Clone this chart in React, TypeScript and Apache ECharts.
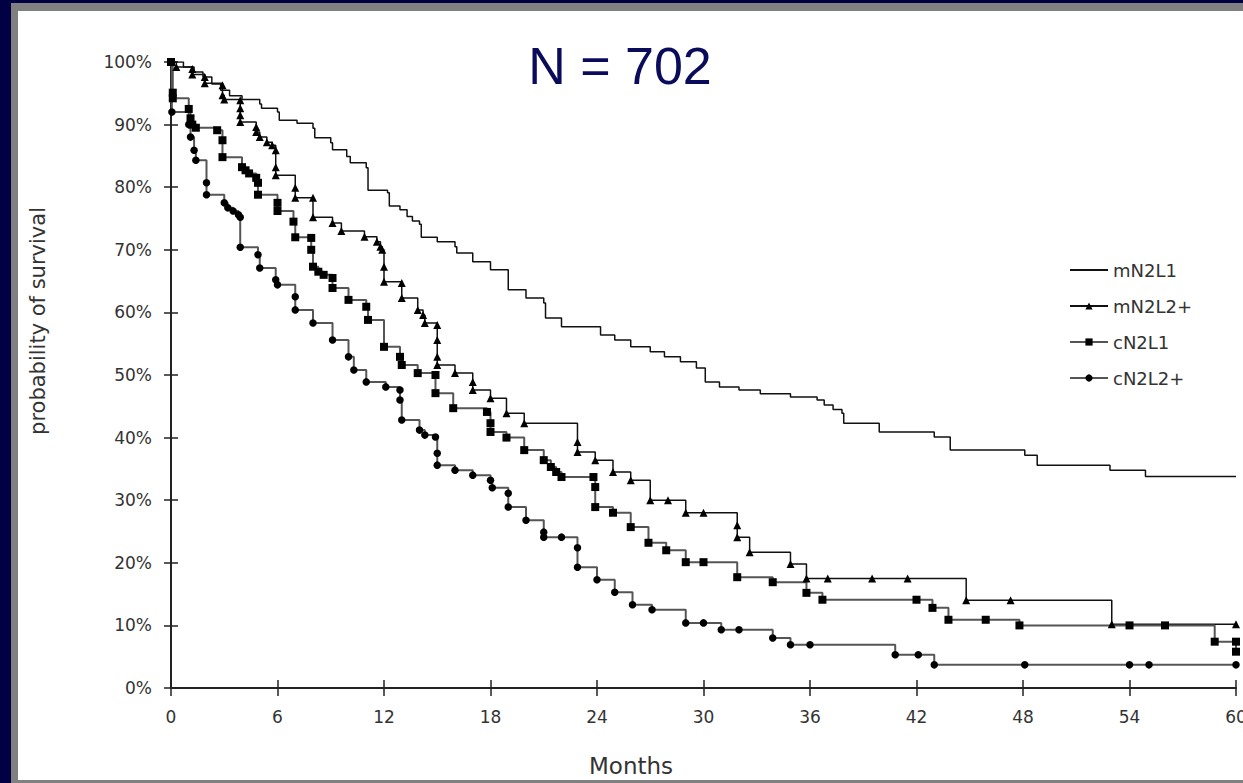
import React, { useEffect, useRef } from 'react';
import * as echarts from 'echarts';

const seriesNames = ['mN2L1', 'mN2L2+', 'cN2L1', 'cN2L2+'];
const xTicks = { min: 0, max: 60, interval: 6 };
const yTicks = { min: 0, max: 100, interval: 10 };

const mN2L1: number[][] = [
  [0, 100], [0.7, 99.2], [1.3, 98.4], [1.8, 97.6], [2.3, 96.5], [2.8, 95.5], [3.3, 94.6], [4, 94.0],
  [5, 93.3], [5.1, 92.6], [6, 92], [6.1, 90.7], [7.1, 90.2], [8, 89.4], [8.1, 87.9], [9, 87.1],
  [9.1, 86], [9.9, 84.9], [10.1, 83.9], [11, 83.1], [11.1, 79.5], [12.2, 79.1], [12.3, 77],
  [12.9, 76.4], [13.3, 75.3], [13.6, 74.6], [14, 74.1], [14.1, 72], [15, 71.3], [16, 70.5],
  [16.1, 69.5], [17, 68.1], [18, 66.8], [19, 63.6], [20, 62.3], [21, 61.5], [21.1, 59.1],
  [22, 57.7], [24.2, 56.4], [25, 55.6], [25.9, 54.5], [27, 53.7], [27.8, 52.9], [28.7, 52.1],
  [29.6, 51.1], [30.1, 48.9], [30.9, 48.1], [32, 47.6], [33.2, 47], [34.9, 46.5], [36.4, 46.0],
  [36.8, 45.2], [37.3, 44.5], [37.8, 43.9], [37.9, 42.3], [39.9, 40.9], [43.0, 40.1], [43.9, 38.0],
  [48.1, 37.2], [48.8, 35.6], [52.9, 34.8], [54.9, 33.8], [60, 33.8],
];

const mN2L2p: number[][] = [
  [0, 100], [0.3, 99.2], [1.2, 98.9], [1.2, 98], [1.9, 97.6], [1.9, 96.6], [2.9, 96.3], [2.9, 94.7],
  [3, 94], [3.9, 93.9], [3.9, 92.6], [3.9, 91.5], [3.9, 90.4], [4.8, 89.6], [4.8, 88.8], [5.0, 88],
  [5.4, 87.2], [5.7, 86.7], [5.9, 85.9], [5.9, 83.2], [5.9, 81.9], [7.0, 79.9], [7.0, 78.3],
  [8.0, 78.3], [8.0, 75.2], [9.1, 74.3], [9.6, 73.0], [10.9, 72.1], [11.6, 71.3], [11.8, 70.5],
  [11.9, 70], [12.0, 67.3], [12.0, 64.9], [13.0, 64.7], [13.0, 62.3], [13.9, 60.4], [14.2, 59.6],
  [14.3, 58.3], [15.0, 58.0], [15.0, 55.6], [15.0, 52.9], [15.0, 51.6], [16.0, 50.3], [17.0, 48.9],
  [17.0, 47.6], [18.0, 46.3], [18.9, 43.9], [19.9, 42.3], [22.9, 39.3], [22.9, 37.7], [23.9, 36.4],
  [24.9, 34.5], [25.9, 33.2], [27.0, 30.0], [28.0, 30.0], [29.0, 28.0], [30.0, 28.0], [31.9, 26.0],
  [31.9, 24.1], [32.6, 21.7], [34.9, 19.8], [35.8, 17.5], [37.0, 17.5], [39.5, 17.5], [41.5, 17.5],
  [44.8, 14.0], [47.3, 14.0], [53.0, 10.2], [60, 10.2],
];

const cN2L1: number[][] = [
  [0, 100], [0.1, 95.1], [0.1, 94.2], [1.0, 92.5], [1.1, 91], [1.2, 90], [1.4, 89.5], [2.6, 89.1],
  [2.9, 87.5], [2.9, 84.8], [4.0, 83.2], [4.2, 82.7], [4.4, 82.2], [4.8, 81.5], [4.9, 80.7],
  [4.9, 78.8], [6.0, 77.5], [6.0, 76.2], [6.9, 74.5], [7.0, 72.0], [7.9, 71.9], [7.9, 70],
  [8.0, 67.3], [8.3, 66.5], [8.6, 66.0], [9.1, 65.5], [9.1, 63.9], [10.0, 62.0], [11.0, 60.9],
  [11.1, 58.8], [12.0, 54.5], [12.9, 52.9], [13.0, 51.6], [13.9, 50.3], [14.9, 50.0], [14.9, 47.1],
  [15.9, 44.7], [17.8, 44.1], [18.0, 42.3], [18.0, 40.9], [18.9, 40.0], [19.9, 38.0], [21.0, 36.4],
  [21.4, 35.3], [21.7, 34.5], [22.0, 33.7], [23.8, 33.7], [23.9, 32.1], [23.9, 28.9], [24.9, 28.0],
  [25.9, 25.7], [26.9, 23.2], [27.9, 22.0], [29.0, 20.1], [30.0, 20.1], [31.9, 17.7], [33.9, 16.9],
  [35.8, 15.2], [36.7, 14.1], [42.0, 14.1], [42.9, 12.8], [43.8, 10.9], [45.9, 10.9], [47.8, 10.0],
  [54.0, 10.0], [56.0, 10.0], [58.8, 7.4], [60, 7.4], [60, 5.8],
];

const cN2L2p: number[][] = [
  [0, 100], [0.05, 92.0], [1.0, 90], [1.1, 88], [1.3, 85.9], [1.4, 84.3], [2.0, 80.7], [2.0, 78.8],
  [3.0, 77.5], [3.2, 76.7], [3.5, 76.2], [3.8, 75.6], [3.9, 75.2], [3.9, 70.4], [4.9, 69.2],
  [5.0, 67.1], [5.9, 65.2], [6.0, 64.4], [7.0, 62.5], [7.0, 60.4], [8.0, 58.3], [9.1, 55.6],
  [10.0, 52.9], [10.3, 50.8], [11.0, 48.9], [12.1, 48.1], [12.9, 47.6], [12.9, 46], [13.0, 42.8],
  [14.0, 41.2], [14.3, 40.4], [14.9, 40.1], [15.0, 37.5], [15.0, 35.6], [16.0, 34.8], [17.0, 34.0],
  [18.0, 33.2], [18.1, 32.0], [19.0, 31.1], [19.0, 28.9], [20.0, 26.8], [21.0, 24.9], [21.0, 24.1],
  [22.0, 24.1], [22.9, 22.4], [22.9, 19.3], [24.0, 17.3], [25.0, 15.3], [26.0, 13.3], [27.1, 12.5],
  [29.0, 10.4], [30.0, 10.4], [31.0, 9.3], [32.0, 9.3], [33.9, 8.0], [34.9, 6.9], [36.0, 6.9],
  [40.8, 5.3], [42.1, 5.3], [43.0, 3.7], [48.1, 3.7], [54.0, 3.7], [55.1, 3.7], [60, 3.7],
];

const FONT = "'Liberation Sans', Arial, sans-serif";
const WIDE = "'DejaVu Sans', Verdana, sans-serif";

export default function App() {
  const ref = useRef<HTMLDivElement>(null);
  useEffect(() => {
    if (!ref.current) return;
    const chart = echarts.init(ref.current, null, { renderer: 'svg' });
    const axisCommon = { axisLine: { show: false }, axisLabel: { show: false }, splitLine: { show: false } };
    const tick = { color: '#222', width: 1.5 };
    chart.setOption({
      animation: false,
      textStyle: { fontFamily: WIDE },
      grid: { left: 171, right: 7, top: 62, bottom: 95, containLabel: false, outerBoundsMode: 'none' },
      xAxis: [
        {
          type: 'value', ...xTicks, position: 'bottom',
          axisLine: { show: true, lineStyle: { color: '#222', width: 2 } },
          axisTick: { show: true, length: 8, lineStyle: tick },
          axisLabel: { color: '#333', fontSize: 17, margin: 20, fontFamily: WIDE },
          splitLine: { show: false },
        },
        {
          type: 'value', ...xTicks, position: 'bottom', ...axisCommon,
          axisTick: { show: true, inside: true, length: 8, lineStyle: tick },
        },
      ],
      yAxis: [
        {
          type: 'value', ...yTicks, position: 'left',
          axisLine: { show: true, lineStyle: { color: '#222', width: 2 } },
          axisTick: { show: true, length: 7, lineStyle: tick },
          axisLabel: { color: '#333', fontSize: 17, margin: 19, formatter: '{value}%', fontFamily: WIDE },
          splitLine: { show: false },
        },
        {
          type: 'value', ...yTicks, position: 'left', ...axisCommon,
          axisTick: { show: true, inside: true, length: 7, lineStyle: tick },
        },
      ],
      legend: {
        orient: 'vertical', left: 1064, top: 256, itemWidth: 38, itemHeight: 9, itemGap: 18,
        textStyle: { fontSize: 18, color: '#333', fontFamily: WIDE },
        data: [
          { name: seriesNames[0], itemStyle: { opacity: 0 } },
          seriesNames[1], seriesNames[2], seriesNames[3],
        ],
      },
      graphic: [
        {
          type: 'text', x: 620, y: 66,
          style: { text: 'N = 702', fill: '#0b0b5c', fontSize: 52, fontFamily: FONT, align: 'center', verticalAlign: 'middle' },
        },
        {
          type: 'text', x: 38, y: 321, rotation: Math.PI / 2,
          style: { text: 'probability of survival', fill: '#333', fontSize: 21, fontFamily: WIDE, align: 'center', verticalAlign: 'middle' },
        },
        {
          type: 'text', x: 631, y: 766,
          style: { text: 'Months', fill: '#333', fontSize: 23, fontFamily: WIDE, align: 'center', verticalAlign: 'middle' },
        },
      ],
      series: [
        {
          name: seriesNames[0], type: 'line', step: 'end', data: mN2L1, symbol: 'none',
          lineStyle: { color: '#111', width: 1.5 }, itemStyle: { color: '#111' },
        },
        {
          name: seriesNames[1], type: 'line', step: 'end', data: mN2L2p, symbol: 'triangle', symbolSize: 8,
          showAllSymbol: true, lineStyle: { color: '#111', width: 1.5 }, itemStyle: { color: '#000' },
        },
        {
          name: seriesNames[2], type: 'line', step: 'end', data: cN2L1, symbol: 'rect', symbolSize: 8,
          showAllSymbol: true, lineStyle: { color: '#555', width: 2 }, itemStyle: { color: '#000' },
        },
        {
          name: seriesNames[3], type: 'line', step: 'end', data: cN2L2p, symbol: 'circle', symbolSize: 7.5,
          showAllSymbol: true, lineStyle: { color: '#555', width: 2 }, itemStyle: { color: '#000' },
        },
      ],
    });
    return () => chart.dispose();
  }, []);
  return (
    <div style={{ position: 'fixed', left: 0, top: 0, width: 1243, height: 783, background: '#000042', overflow: 'hidden' }}>
      <div style={{ position: 'absolute', left: 11, top: 3, right: 0, bottom: 0, background: '#808080' }} />
      <div style={{ position: 'absolute', left: 18, top: 11, right: 0, bottom: 3, background: '#ffffff' }} />
      <div ref={ref} style={{ position: 'absolute', left: 0, top: 0, width: 1243, height: 783 }} />
    </div>
  );
}
